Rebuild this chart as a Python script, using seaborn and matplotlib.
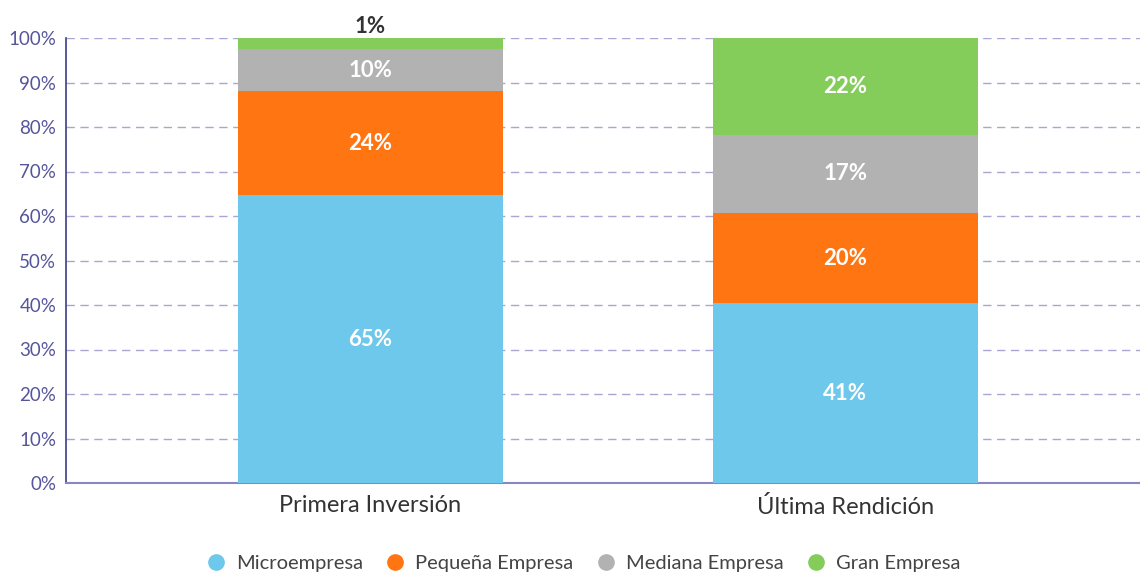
import numpy as np
import pandas as pd
import seaborn as sns
import matplotlib.pyplot as plt
from matplotlib.lines import Line2D

categories = ["Primera Inversión", "Última Rendición"]
series = ["Microempresa", "Pequeña Empresa", "Mediana Empresa", "Gran Empresa"]
micro = [64.7, 40.4]
pequena = [23.4, 20.3]
mediana = [9.4, 17.5]
gran = [2.5, 21.8]
labels_micro = ["65%", "41%"]
labels_pequena = ["24%", "20%"]
labels_mediana = ["10%", "17%"]
labels_gran = ["1%", "22%"]
yticklabels = ["0%", "10%", "20%", "30%", "40%", "50%", "60%", "70%", "80%", "90%", "100%"]

colors = ["#6DC8EC", "#FF7511", "#B2B2B2", "#84CD5A"]

sns.set_theme(style="white")
plt.rcParams['font.family'] = ['Lato', 'DejaVu Sans']

fig = plt.figure(figsize=(11.4, 5.74), dpi=100)
ax = fig.add_axes([66/1140, 1-483/574, (1140-66)/1140, (483-38)/574])

layers = [micro, pequena, mediana, gran]
cum = np.cumsum(np.array(layers), axis=0)
df = pd.DataFrame({"cat": categories})
for i in range(len(layers) - 1, -1, -1):
    df["v"] = cum[i]
    sns.barplot(data=df, x="cat", y="v", color=colors[i], width=0.558,
                saturation=1, ax=ax, zorder=3, linewidth=0, edgecolor="none")

# labels
all_labels = [labels_micro, labels_pequena, labels_mediana, labels_gran]
for j in range(len(categories)):
    for i in range(len(layers)):
        bottom = cum[i][j] - layers[i][j]
        top = cum[i][j]
        if layers[i][j] < 5:
            ax.text(j, top + 0.2, all_labels[i][j], ha="center", va="bottom",
                    color="#333333", fontsize=16, fontweight="bold", zorder=5)
        else:
            ax.text(j, (bottom + top) / 2, all_labels[i][j], ha="center", va="center",
                    color="white", fontsize=16, fontweight="bold", zorder=5)

ax.set_xlim(-0.64, 1.62)
ax.set_ylim(0, 100)
ax.set_yticks(np.arange(0, 101, 10))
ax.set_yticklabels(yticklabels, color="#55559A", fontsize=13.5)
ax.tick_params(axis="y", length=0, pad=7)
ax.tick_params(axis="x", length=0, pad=9, labelsize=17, labelcolor="#333333")
ax.set_xlabel("")
ax.set_ylabel("")
ax.yaxis.grid(True, linestyle=(0, (6, 4)), color="#A9A6D3", linewidth=1, zorder=0)
ax.set_axisbelow(True)
for s in ["top", "right"]:
    ax.spines[s].set_visible(False)
ax.spines["left"].set_color("#3D3D8A")
ax.spines["left"].set_linewidth(1.2)
ax.spines["bottom"].set_color("#8A87C0")
ax.spines["bottom"].set_linewidth(1.5)

handles = [Line2D([0], [0], marker="o", linestyle="", markersize=11,
                  markerfacecolor=c, markeredgecolor=c) for c in colors]
fig.legend(handles, series, loc="center", bbox_to_anchor=(583/1140, 1-563/574),
           ncol=4, frameon=False, fontsize=14.5, labelcolor="#444444",
           handlelength=1.0, handletextpad=0.5, columnspacing=1.1)

fig.savefig("out.png", dpi=100)
